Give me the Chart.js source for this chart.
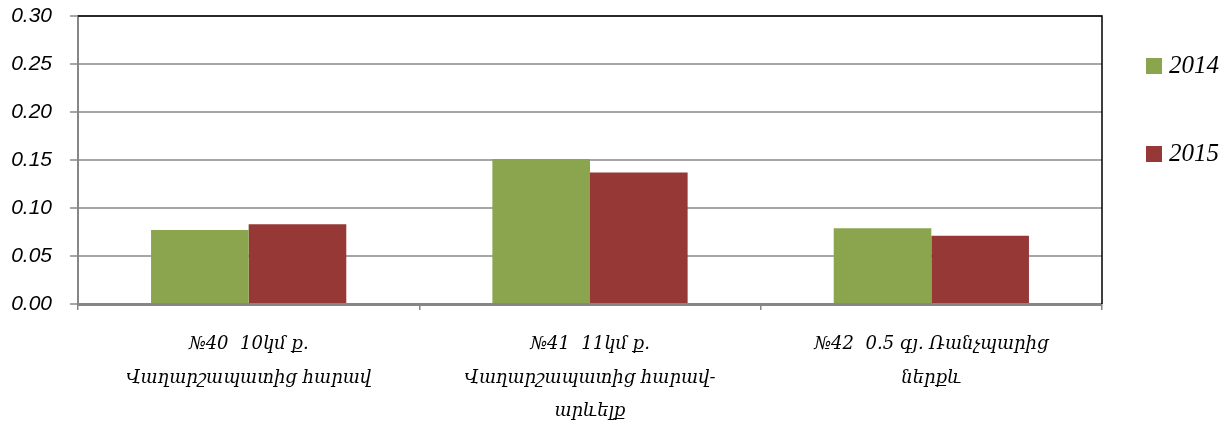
<!DOCTYPE html>
<html>
<head>
<meta charset="utf-8">
<script src="https://cdn.jsdelivr.net/npm/chart.js@4/dist/chart.umd.min.js"></script>
<style>
  html, body { margin: 0; padding: 0; background: #fff; }
  #wrap { width: 1231px; height: 428px; }
</style>
</head>
<body>
<div id="wrap"><canvas id="myChart" width="1231" height="428"></canvas></div>
<script>
// category labels (one entry per line)
let categories = [
  ["№40  10կմ ք.", "Վաղարշապատից հարավ"],
  ["№41  11կմ ք.", "Վաղարշապատից հարավ-", "արևելք"],
  ["№42  0.5 գյ. Ռանչպարից", "ներքև"],
];
let seriesNames = ["2014", "2015"];
let values2014 = [0.077, 0.151, 0.079];
let values2015 = [0.083, 0.137, 0.071];
let yMin = 0;
let yMax = 0.3;
let yStep = 0.05;

let green = "#8AA54E";
let red = "#953836";

// legend drawn at the right like the original, plus black top/right frame
const sideLegend = {
  id: "sideLegend",
  afterDraw(chart) {
    const ctx = chart.ctx;
    const area = chart.chartArea;
    ctx.save();
    ctx.strokeStyle = "#000";
    ctx.lineWidth = 1.5;
    ctx.beginPath();
    ctx.moveTo(area.left, area.top);
    ctx.lineTo(area.right, area.top);
    ctx.lineTo(area.right, area.bottom);
    ctx.stroke();

    chart.data.datasets.forEach((ds, i) => {
      const y = 58 + i * 88;
      ctx.fillStyle = ds.backgroundColor;
      ctx.fillRect(1146, y, 16, 16);
      ctx.fillStyle = "#000";
      ctx.font = "italic 25px 'Liberation Serif'";
      ctx.textBaseline = "middle";
      ctx.textAlign = "left";
      ctx.fillText(ds.label, 1169, y + 8);
    });
    ctx.restore();
  },
};

document.addEventListener("DOMContentLoaded", function() {
  const data = {
    labels: categories,
    datasets: [
      {
        label: seriesNames[0],
        data: values2014,
        backgroundColor: green,
        borderWidth: 0,
      },
      {
        label: seriesNames[1],
        data: values2015,
        backgroundColor: red,
        borderWidth: 0,
      },
    ],
  };

  const config = {
    type: "bar",
    data: data,
    plugins: [sideLegend],
    options: {
      responsive: false,
      animation: false,
      devicePixelRatio: 1,
      layout: {
        padding: { top: 16, right: 129, left: 0, bottom: 0 },
      },
      datasets: {
        bar: {
          barPercentage: 1,
          categoryPercentage: 0.572,
        },
      },
      plugins: {
        legend: { display: false },
        tooltip: { enabled: false },
      },
      scales: {
        x: {
          afterFit: (scale) => {
            scale.height = 124;
            scale.paddingLeft = 0;
            scale.paddingRight = 0;
          },
          grid: {
            offset: true,
            drawOnChartArea: false,
            drawTicks: true,
            tickLength: 6,
            color: "#868686",
            lineWidth: 1.5,
          },
          border: { color: "#868686", width: 3 },
          ticks: {
            padding: 18,
            maxRotation: 0,
            autoSkip: false,
            color: "#000",
            font: { family: "'DejaVu Serif'", style: "italic", size: 18, lineHeight: 1.85 },
          },
        },
        y: {
          min: yMin,
          max: yMax,
          afterFit: (scale) => {
            scale.width = 78;
            scale.paddingTop = 0;
            scale.paddingBottom = 0;
          },
          grid: {
            color: "#a6a6a6",
            lineWidth: 2,
            tickLength: 8,
          },
          border: { color: "#868686", width: 2 },
          ticks: {
            stepSize: yStep,
            padding: 18,
            color: "#000",
            font: { family: "'Liberation Sans'", style: "italic", size: 21 },
            callback: (v) => v.toFixed(2),
          },
        },
      },
    },
  };
  const myChart = new Chart(document.getElementById("myChart"), config);
});
</script>
</body>
</html>
